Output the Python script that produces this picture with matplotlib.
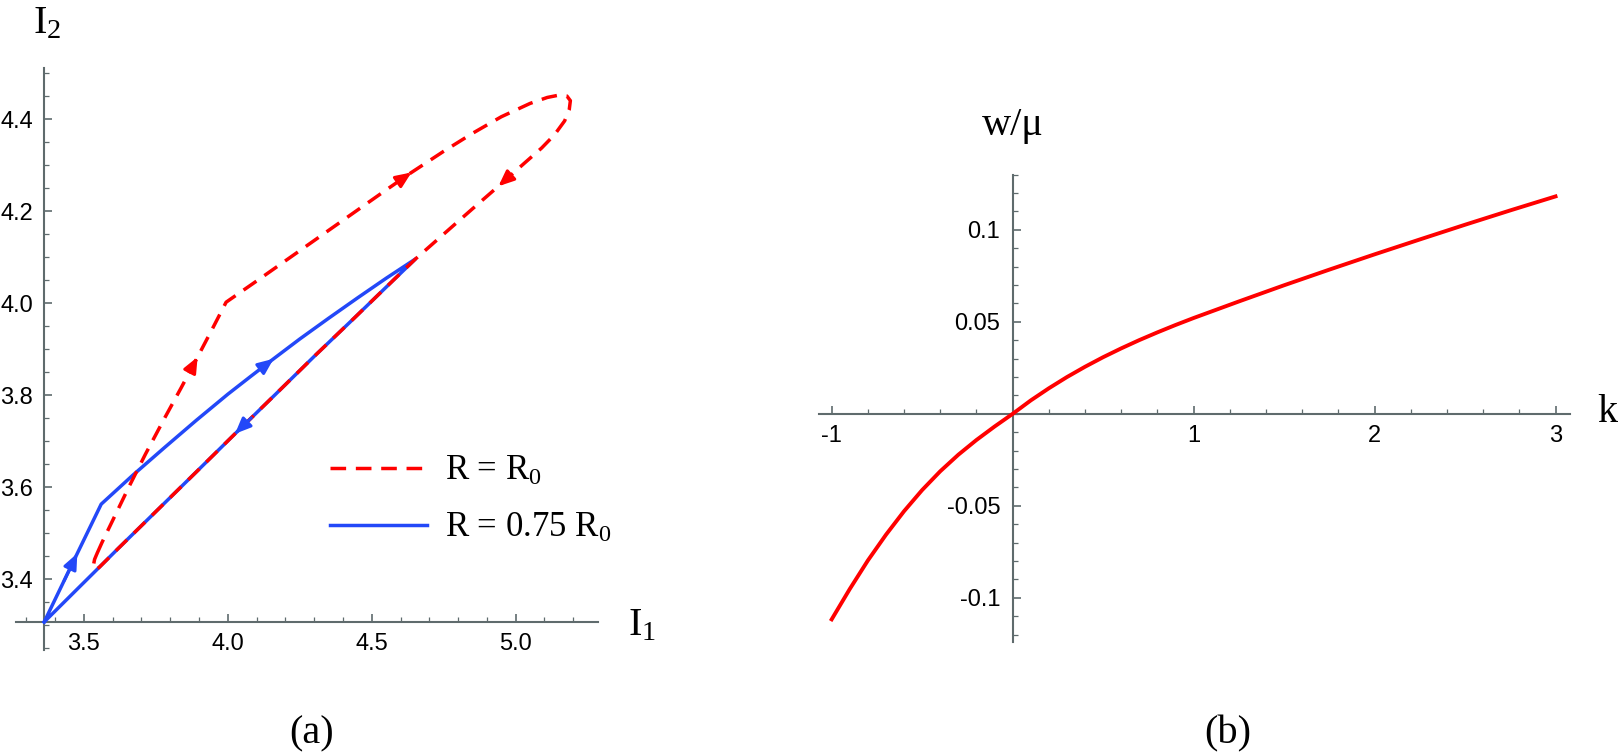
import numpy as np
import matplotlib.pyplot as plt
from matplotlib.ticker import FixedLocator, MultipleLocator, FixedFormatter

plt.rcParams['font.family'] = ['Liberation Sans', 'DejaVu Sans']
plt.rcParams['mathtext.fontset'] = 'custom'
plt.rcParams['mathtext.rm'] = 'Liberation Serif'
plt.rcParams['mathtext.it'] = 'Liberation Serif:italic'
plt.rcParams['axes.unicode_minus'] = False

# (a) trayectorias en el plano (I1, I2)
# R = 0.75 R0 : sube por la izquierda, vuelve por la recta de abajo
azul_I1 = [3.362, 3.477, 3.560, 3.670, 3.780, 3.890, 4.000, 4.080, 4.159, 4.250,
           4.350, 4.450, 4.550, 4.652, 4.577, 4.440, 4.303, 4.166, 4.025, 3.892,
           3.755, 3.618, 3.481, 3.362]
azul_I2 = [3.307, 3.456, 3.563, 3.626, 3.686, 3.745, 3.802, 3.841, 3.879, 3.922,
           3.967, 4.011, 4.054, 4.096, 4.051, 3.968, 3.886, 3.802, 3.716, 3.634,
           3.550, 3.466, 3.381, 3.307]
azul_flechas = [1, 8, 18]

# R = R0 : lazo grande (discontinuo)
rojo_I1 = [3.545, 3.563, 3.604, 3.659, 3.714, 3.782, 3.837, 3.895, 3.947, 3.994,
           4.100, 4.250, 4.400, 4.550, 4.638, 4.750, 4.850, 4.950, 5.050, 5.110,
           5.150, 5.178, 5.190, 5.186, 5.170, 5.135, 5.090, 5.030, 4.940, 4.850,
           4.750, 4.652, 4.577, 4.440, 4.303, 4.166, 4.025, 3.892, 3.755, 3.618,
           3.552, 3.539, 3.533, 3.537, 3.545]
rojo_I2 = [3.455, 3.480, 3.533, 3.604, 3.672, 3.752, 3.815, 3.883, 3.945, 4.002,
           4.048, 4.114, 4.180, 4.246, 4.284, 4.330, 4.369, 4.405, 4.434, 4.447,
           4.452, 4.450, 4.440, 4.420, 4.396, 4.366, 4.337, 4.304, 4.254, 4.205,
           4.150, 4.096, 4.051, 3.968, 3.886, 3.802, 3.716, 3.634, 3.550, 3.466,
           3.425, 3.420, 3.430, 3.443, 3.455]
rojo_flechas = [7, 14, 28]

x_ticks_a = [3.5, 4.0, 4.5, 5.0]
y_ticks_a = [3.4, 3.6, 3.8, 4.0, 4.2, 4.4]

# (b) frecuencia w/mu frente a k
k = [-1.0, -0.9, -0.8, -0.7, -0.6, -0.5, -0.4, -0.3, -0.2, -0.1, 0.0,
     0.1, 0.2, 0.3, 0.4, 0.5, 0.6, 0.7, 0.8, 0.9, 1.0,
     1.25, 1.5, 1.75, 2.0, 2.25, 2.5, 2.75, 3.0]
w = [-0.1117, -0.0952, -0.0797, -0.0657, -0.0529, -0.0414, -0.0312, -0.0222,
     -0.0142, -0.0069, 0.0,
     0.0073, 0.0139, 0.0200, 0.0256, 0.0308, 0.0356, 0.0401, 0.0443, 0.0483, 0.0521,
     0.0611, 0.0699, 0.0784, 0.0867, 0.0948, 0.1028, 0.1106, 0.1182]

x_ticks_b = [-1, 1, 2, 3]
x_labels_b = ['-1', '1', '2', '3']
y_ticks_b = [-0.1, -0.05, 0.05, 0.1]
y_labels_b = ['-0.1', '-0.05', '0.05', '0.1']

ROJO = '#ff0000'
AZUL = '#2348f8'
EJE = '#5f6b6d'
SERIF = 'Liberation Serif'

W, H = 1618, 753
fig = plt.figure(figsize=(W / 100, H / 100), dpi=100)


def ejes_cruzados(ax, x0, y0):
    """Ejes al estilo Mathematica: se cruzan en (x0, y0), marcas hacia dentro."""
    for s in ['top', 'right']:
        ax.spines[s].set_visible(False)
    ax.spines['left'].set_position(('data', x0))
    ax.spines['bottom'].set_position(('data', y0))
    for s in ['left', 'bottom']:
        ax.spines[s].set_color(EJE)
        ax.spines[s].set_linewidth(1.5)
        ax.spines[s].set_zorder(1)
    ax.tick_params(which='both', direction='in', color=EJE, labelsize=17,
                   labelcolor='black', pad=8)
    ax.tick_params(which='major', length=6, width=1.2)
    ax.tick_params(which='minor', length=3.5, width=0.9)
    ax.patch.set_alpha(0)


def flecha(ax, xs, ys, i, color):
    # punta en el punto i, orientada segun el tramo (i-1 -> i)
    x0 = xs[i - 1] + 0.6 * (xs[i] - xs[i - 1])
    y0 = ys[i - 1] + 0.6 * (ys[i] - ys[i - 1])
    ax.annotate('', xy=(xs[i], ys[i]), xytext=(x0, y0), zorder=5,
                arrowprops=dict(arrowstyle='-|>,head_length=0.75,head_width=0.32',
                                color=color, lw=2.2, mutation_scale=12.5,
                                shrinkA=0, shrinkB=0))


# ---------------- panel (a) ----------------
ax1 = fig.add_axes([16 / W, 1 - 650 / H, 582 / W, 582 / H])
ax1.set_xlim(3.264, 5.286)
ax1.set_ylim(3.246, 4.511)
ejes_cruzados(ax1, 3.362, 3.3065)

ax1.plot(azul_I1, azul_I2, color=AZUL, lw=2.5, solid_joinstyle='round',
         label='R = 0.75 R$_0$', zorder=3)
ax1.plot(rojo_I1, rojo_I2, color=ROJO, lw=2.5, dashes=(4.5, 2.8),
         label='R = R$_0$', zorder=4)
for i in azul_flechas:
    flecha(ax1, azul_I1, azul_I2, i, AZUL)
for i in rojo_flechas:
    flecha(ax1, rojo_I1, rojo_I2, i, ROJO)

ax1.xaxis.set_major_locator(FixedLocator(x_ticks_a))
ax1.xaxis.set_minor_locator(MultipleLocator(0.1))
ax1.yaxis.set_major_locator(FixedLocator(y_ticks_a))
ax1.yaxis.set_minor_locator(MultipleLocator(0.05))
ax1.set_xticklabels(['%.1f' % v for v in x_ticks_a])
ax1.set_yticklabels(['%.1f' % v for v in y_ticks_a])

h, l = ax1.get_legend_handles_labels()
ax1.legend(h[::-1], l[::-1], loc='center left',
           bbox_to_anchor=(330 / W, 1 - 500 / H), bbox_transform=fig.transFigure,
           frameon=False, prop=dict(family=SERIF, size=25), handlelength=2.8,
           handletextpad=0.5, labelspacing=0.69, borderpad=0, borderaxespad=0)

fig.text(33 / W, 1 - 33 / H, 'I$_2$', family=SERIF, size=29, ha='left', va='baseline')
fig.text(628 / W, 1 - 635 / H, 'I$_1$', family=SERIF, size=29, ha='left', va='baseline')
fig.text(312 / W, 1 - 743 / H, '(a)', family=SERIF, size=29, ha='center', va='baseline')

# ---------------- panel (b) ----------------
ax2 = fig.add_axes([819 / W, 1 - 642 / H, 751 / W, 467.3 / H])
ax2.set_xlim(-1.07, 3.08)
ax2.set_ylim(-0.124, 0.13)
ejes_cruzados(ax2, 0, 0)
ax2.tick_params(axis='y', pad=9)

ax2.plot(k, w, color=ROJO, lw=2.8, zorder=3, solid_joinstyle='round')

ax2.xaxis.set_major_locator(FixedLocator(x_ticks_b))
ax2.xaxis.set_major_formatter(FixedFormatter(x_labels_b))
ax2.xaxis.set_minor_locator(MultipleLocator(0.2))
ax2.yaxis.set_major_locator(FixedLocator(y_ticks_b))
ax2.yaxis.set_major_formatter(FixedFormatter(y_labels_b))
ax2.yaxis.set_minor_locator(MultipleLocator(0.01))

fig.text(1013 / W, 1 - 135 / H, 'w/\u03bc', family=SERIF, size=29, ha='center', va='baseline')
fig.text(1597 / W, 1 - 422 / H, 'k', family=SERIF, size=29, ha='left', va='baseline')
fig.text(1228 / W, 1 - 743 / H, '(b)', family=SERIF, size=29, ha='center', va='baseline')

fig.savefig('out.png', dpi=100)
